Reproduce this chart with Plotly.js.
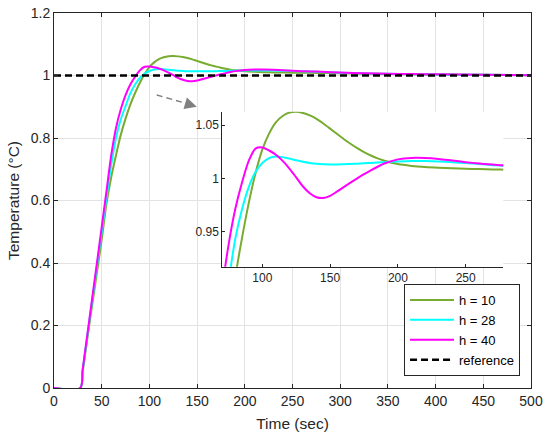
<!DOCTYPE html>
<html>
<head>
<meta charset="utf-8">
<script src="https://cdn.plot.ly/plotly-3.0.1.min.js"></script>
<style>html,body{margin:0;padding:0;background:#fff;}#chart{width:550px;height:439px;}</style>
</head>
<body>
<div id="chart"></div>
<script>
// Time samples (sec)
var time = [0, 27.5, 30, 35, 40, 45, 50, 55, 60, 65, 70, 75, 80, 85, 90, 95, 100, 105, 110, 115, 120, 125, 130, 135, 140, 145, 150, 155, 160, 165, 170, 175, 180, 185, 190, 200, 210, 220, 230, 240, 250, 260, 270, 280, 300, 325, 350, 375, 400, 450, 500];
// h = 10
var h10 = [0, 0, 0.052, 0.16, 0.265, 0.37, 0.475, 0.59, 0.675, 0.745, 0.81, 0.862, 0.907, 0.944, 0.977, 1.005, 1.027, 1.042, 1.0525, 1.0585, 1.0617, 1.0624, 1.0612, 1.059, 1.0558, 1.0515, 1.0467, 1.0418, 1.037, 1.0325, 1.0284, 1.0247, 1.0215, 1.0188, 1.0166, 1.0135, 1.0118, 1.0107, 1.01, 1.0095, 1.0091, 1.0088, 1.0085, 1.0082, 1.0072, 1.006, 1.0049, 1.004, 1.0033, 1.0021, 1.0012];
// h = 28
var h28 = [0, 0, 0.056, 0.168, 0.28, 0.39, 0.5, 0.61, 0.715, 0.8, 0.86, 0.902, 0.943, 0.971, 0.992, 1.006, 1.0145, 1.019, 1.0205, 1.02, 1.0186, 1.017, 1.0156, 1.0145, 1.0137, 1.0133, 1.0132, 1.0132, 1.0134, 1.0136, 1.0139, 1.0142, 1.0146, 1.0149, 1.0153, 1.0159, 1.0163, 1.0163, 1.0159, 1.0152, 1.0144, 1.0135, 1.0125, 1.0115, 1.009, 1.0068, 1.0053, 1.0042, 1.0034, 1.0022, 1.0012];
// h = 40
var h40 = [0, 0, 0.058, 0.172, 0.287, 0.4, 0.515, 0.63, 0.745, 0.832, 0.892, 0.937, 0.971, 0.996, 1.0165, 1.028, 1.029, 1.0262, 1.0222, 1.0165, 1.0093, 1.001, 0.9925, 0.9862, 0.9825, 0.9818, 0.9838, 0.9877, 0.992, 0.9962, 1.0002, 1.004, 1.0076, 1.011, 1.014, 1.0179, 1.0193, 1.0192, 1.0183, 1.0168, 1.0153, 1.014, 1.013, 1.0121, 1.0095, 1.007, 1.0056, 1.0046, 1.0038, 1.0022, 1.0012];
// reference
var refTime = [0, 500];
var refValue = [1, 1];

var seriesNames = ['h = 10', 'h = 28', 'h = 40'];
var seriesColors = ['#77AC30', '#00FFFF', '#FF00FF'];
var seriesValues = [h10, h28, h40];

// Axis settings
var mainXTicks = [0, 50, 100, 150, 200, 250, 300, 350, 400, 450, 500];
var mainYTicks = [0, 0.2, 0.4, 0.6, 0.8, 1, 1.2];
var mainYTickText = ['0', '0.2', '0.4', '0.6', '0.8', '1', '1.2'];
var insetXRange = [70.5, 277.7];
var insetYRange = [0.9175, 1.0625];
var insetXTicks = [100, 150, 200, 250];
var insetYTicks = [0.95, 1, 1.05];
var insetYTickText = ['0.95', '1', '1.05'];

var FONT = 'Liberation Sans, Arial, Helvetica, sans-serif';
var AX = '#262626';

var traces = [];
seriesValues.forEach(function (v, i) {
  traces.push({x: time, y: v, type: 'scatter', mode: 'lines', name: seriesNames[i],
    line: {color: seriesColors[i], width: 2, shape: 'spline', smoothing: 0.8}, xaxis: 'x', yaxis: 'y'});
});
traces.push({x: refTime, y: refValue, type: 'scatter', mode: 'lines', name: 'reference',
  line: {color: '#000000', width: 2.5, dash: '7px,4px'}, xaxis: 'x', yaxis: 'y'});
seriesValues.forEach(function (v, i) {
  traces.push({x: time, y: v, type: 'scatter', mode: 'lines', name: seriesNames[i], showlegend: false,
    line: {color: seriesColors[i], width: 2, shape: 'spline', smoothing: 0.8}, xaxis: 'x2', yaxis: 'y2'});
});

var layout = {
  width: 550, height: 439,
  margin: {l: 54, r: 19, t: 13, b: 51},
  paper_bgcolor: '#ffffff', plot_bgcolor: '#ffffff',
  font: {family: FONT, size: 14, color: AX},
  showlegend: true,
  legend: {x: 0.977, y: 0.032, xanchor: 'right', yanchor: 'bottom',
    bgcolor: '#ffffff', bordercolor: AX, borderwidth: 1,
    font: {family: FONT, size: 13, color: '#000'}, itemwidth: 44, tracegroupgap: 0},
  xaxis: {domain: [0, 1], range: [0, 500], tickvals: mainXTicks, ticks: 'inside', ticklen: 4,
    tickcolor: AX, showline: true, linecolor: AX, linewidth: 1, mirror: 'ticks',
    showgrid: true, gridcolor: '#e3e3e3', gridwidth: 1, zeroline: false,
    tickfont: {size: 14, color: AX},
    title: {text: 'Time (sec)', font: {size: 15.5, color: AX}, standoff: 10}},
  yaxis: {domain: [0, 1], range: [0, 1.2], tickvals: mainYTicks, ticktext: mainYTickText, ticks: 'inside', ticklen: 4,
    tickcolor: AX, showline: true, linecolor: AX, linewidth: 1, mirror: 'ticks',
    showgrid: true, gridcolor: '#e3e3e3', gridwidth: 1, zeroline: false,
    tickfont: {size: 14, color: AX},
    title: {text: 'Temperature (°C)', font: {size: 15.5, color: AX}, standoff: 7}},
  xaxis2: {domain: [0.3528, 0.9419], anchor: 'y2', range: insetXRange, tickvals: insetXTicks,
    ticks: 'inside', ticklen: 3, tickcolor: AX, showline: true, linecolor: AX, linewidth: 1,
    mirror: false, showgrid: false, zeroline: false, tickfont: {size: 12, color: AX}},
  yaxis2: {domain: [0.3235, 0.7368], anchor: 'x2', range: insetYRange, tickvals: insetYTicks, ticktext: insetYTickText,
    ticks: 'inside', ticklen: 3, tickcolor: AX, showline: true, linecolor: AX, linewidth: 1,
    mirror: false, showgrid: false, zeroline: false, tickfont: {size: 12, color: AX}},
  shapes: [
    {type: 'rect', xref: 'x2', yref: 'y2', x0: insetXRange[0], x1: insetXRange[1], y0: insetYRange[0], y1: insetYRange[1],
      fillcolor: '#ffffff', line: {width: 0}, layer: 'below'},
    {type: 'line', xref: 'x', yref: 'y', x0: 107.7, y0: 0.9376, x1: 143, y1: 0.907,
      line: {color: '#808080', width: 1.5, dash: '6px,4px'}}
  ],
  annotations: [
    {xref: 'x', yref: 'y', x: 149.6, y: 0.9002, axref: 'x', ayref: 'y', ax: 141, ay: 0.908,
      showarrow: true, arrowhead: 2, arrowsize: 1.6, arrowwidth: 1.5, arrowcolor: '#808080', text: '', standoff: 0}
  ]
};

Plotly.newPlot('chart', traces, layout, {displayModeBar: false, staticPlot: true});
</script>
</body>
</html>
